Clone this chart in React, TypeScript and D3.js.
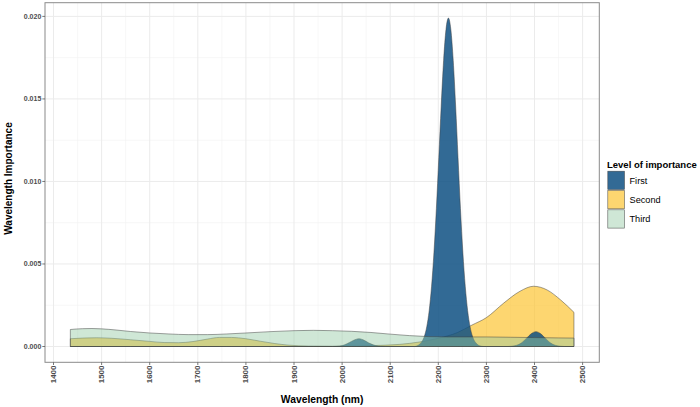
import React from "react";
import * as d3 from "d3";

// ---- data ----
const levels = ["First", "Second", "Third"];

const firstWavelengths = [1435, 1980, 1995, 2005, 2015, 2025, 2035, 2045, 2055, 2065, 2075, 2090, 2151, 2156, 2161, 2166, 2171, 2176, 2181, 2186, 2191, 2196, 2201, 2206, 2211, 2216, 2221, 2226, 2231, 2236, 2241, 2246, 2251, 2256, 2261, 2266, 2271, 2276, 2281, 2286, 2295, 2345, 2353, 2363, 2373, 2383, 2393, 2403, 2413, 2423, 2433, 2443, 2453, 2462, 2482];
const firstDensity = [0, 0, 0.00003, 0.0001, 0.00024, 0.00039, 0.00047, 0.00039, 0.00022, 0.0001, 0.00003, 0, 0, 0.00004, 0.000136, 0.0003, 0.00062, 0.0012, 0.00217, 0.00365, 0.00572, 0.00837, 0.01144, 0.01457, 0.01733, 0.01922, 0.0199, 0.01922, 0.01733, 0.01457, 0.01144, 0.00837, 0.00572, 0.00365, 0.00217, 0.0012, 0.00062, 0.0003, 0.000136, 0.00004, 0, 0, 0.00002, 0.000076, 0.00022, 0.00049, 0.00077, 0.0009, 0.00077, 0.00049, 0.00022, 0.000076, 0.00002, 0, 0];

const secondWavelengths = [1435, 1460, 1490, 1520, 1560, 1600, 1630, 1660, 1690, 1720, 1745, 1770, 1800, 1830, 1860, 1890, 1930, 1980, 2030, 2080, 2120, 2160, 2200, 2240, 2270, 2300, 2336, 2370, 2398, 2426, 2454, 2482];
const secondDensity = [0.00047, 0.00051, 0.00053, 0.0005, 0.00041, 0.00031, 0.00024, 0.00023, 0.0003, 0.00045, 0.00055, 0.00055, 0.00047, 0.00032, 0.00018, 0.00008, 0.00003, 0.00002, 0.00003, 0.00007, 0.00013, 0.00027, 0.0005, 0.00085, 0.0013, 0.00175, 0.00263, 0.00335, 0.00365, 0.00343, 0.00283, 0.00207];

const thirdWavelengths = [1435, 1460, 1480, 1500, 1530, 1560, 1600, 1640, 1680, 1720, 1760, 1800, 1850, 1900, 1940, 1980, 2020, 2060, 2100, 2140, 2180, 2220, 2260, 2300, 2350, 2400, 2450, 2482];
const thirdDensity = [0.00103, 0.00108, 0.00109, 0.00107, 0.001, 0.00091, 0.00082, 0.00076, 0.00072, 0.00072, 0.00076, 0.00082, 0.0009, 0.00096, 0.00098, 0.00096, 0.00092, 0.00085, 0.00075, 0.00066, 0.0006, 0.00058, 0.00058, 0.00058, 0.00056, 0.00054, 0.00052, 0.00051];

const xTicks = [1400, 1500, 1600, 1700, 1800, 1900, 2000, 2100, 2200, 2300, 2400, 2500];
const xMinor = [1450, 1550, 1650, 1750, 1850, 1950, 2050, 2150, 2250, 2350, 2450];
const yTicks = [0, 0.005, 0.01, 0.015, 0.02];
const yMinor = [0.0025, 0.0075, 0.0125, 0.0175];

const fills: Record<string, string> = { First: "#0E5083", Second: "#FCC433", Third: "#94CAA4" };
const alphas: Record<string, number> = { First: 0.85, Second: 0.7, Third: 0.45 };

const series = [
  { key: "First", xs: firstWavelengths, ys: firstDensity },
  { key: "Second", xs: secondWavelengths, ys: secondDensity },
  { key: "Third", xs: thirdWavelengths, ys: thirdDensity },
];
const drawOrder = ["Second", "First", "Third"];

export default function App() {
  const W = 700, H = 407;
  const L = 45, R = 599.3, T = 2.7, B = 362.3;
  const x = d3.scaleLinear().domain([1382.3, 2534.7]).range([L, R]);
  const y = d3.scaleLinear().domain([-0.000957, 0.02083]).range([B, T]);
  const font = "'Liberation Sans', Arial, Helvetica, sans-serif";

  const area = d3
    .area<[number, number]>()
    .x((d) => x(d[0]))
    .y0(() => y(0))
    .y1((d) => y(d[1]))
    .curve(d3.curveMonotoneX);

  return (
    <svg width={W} height={H} style={{ position: "absolute", left: 0, top: 0, background: "#fff" }} fontFamily={font}>
      <rect x={0} y={0} width={W} height={H} fill="#fff" />
      {/* grid */}
      {yMinor.map((v) => (
        <line key={"ym" + v} x1={L} x2={R} y1={y(v)} y2={y(v)} stroke="#F2F2F2" strokeWidth={0.6} />
      ))}
      {xMinor.map((v) => (
        <line key={"xm" + v} x1={x(v)} x2={x(v)} y1={T} y2={B} stroke="#F2F2F2" strokeWidth={0.6} />
      ))}
      {yTicks.map((v) => (
        <line key={"yg" + v} x1={L} x2={R} y1={y(v)} y2={y(v)} stroke="#EBEBEB" strokeWidth={1} />
      ))}
      {xTicks.map((v) => (
        <line key={"xg" + v} x1={x(v)} x2={x(v)} y1={T} y2={B} stroke="#EBEBEB" strokeWidth={1} />
      ))}
      {/* densities */}
      {drawOrder.map((k) => {
        const s = series.find((q) => q.key === k)!;
        const pts: [number, number][] = s.xs.map((xv, i) => [xv, s.ys[i]]);
        return (
          <path
            key={k}
            d={area(pts) || ""}
            fill={fills[k]}
            fillOpacity={alphas[k]}
            stroke="#3a3a3a"
            strokeOpacity={0.8}
            strokeWidth={0.6}
          />
        );
      })}
      {/* panel border */}
      <rect x={L} y={T} width={R - L} height={B - T} fill="none" stroke="#8a8a8a" strokeWidth={1} />
      {/* y axis */}
      {yTicks.map((v) => (
        <g key={"yt" + v}>
          <line x1={L - 2.7} x2={L} y1={y(v)} y2={y(v)} stroke="#555" strokeWidth={0.8} />
          <text x={41.3} y={y(v)} textAnchor="end" dominantBaseline="central" fontSize={7} fontWeight="bold" fill="#4D4D4D">
            {d3.format(".3f")(v)}
          </text>
        </g>
      ))}
      {/* x axis */}
      {xTicks.map((v) => (
        <g key={"xt" + v}>
          <line x1={x(v)} x2={x(v)} y1={B} y2={B + 2.7} stroke="#555" strokeWidth={0.8} />
          <text
            transform={`translate(${x(v)},${365.5}) rotate(-90)`}
            textAnchor="end"
            dominantBaseline="central"
            fontSize={8}
            fontWeight="bold"
            fill="#4D4D4D"
          >
            {v}
          </text>
        </g>
      ))}
      <text x={(L + R) / 2} y={399} textAnchor="middle" dominantBaseline="central" fontSize={10.3} fontWeight="bold" fill="#000">
        Wavelength (nm)
      </text>
      <text transform={`translate(8,178.5) rotate(-90)`} textAnchor="middle" dominantBaseline="central" fontSize={10} fontWeight="bold" fill="#000">
        Wavelength Importance
      </text>
      {/* legend */}
      <text x={607} y={168.3} fontSize={9.5} fontWeight="bold" fill="#000">
        Level of importance
      </text>
      {levels.map((k, i) => {
        const ky = 170.7 + i * 19.3;
        return (
          <g key={"lg" + k}>
            <rect x={607.3} y={ky} width={17.7} height={19.3} fill="#fff" />
            <rect x={607.8} y={ky + 0.5} width={16.7} height={18.3} fill={fills[k]} fillOpacity={alphas[k]} stroke="#3a3a3a" strokeOpacity={0.8} strokeWidth={0.6} />
            <text x={629.5} y={ky + 9.8} dominantBaseline="central" fontSize={9.2} fill="#000">
              {k}
            </text>
          </g>
        );
      })}
    </svg>
  );
}
